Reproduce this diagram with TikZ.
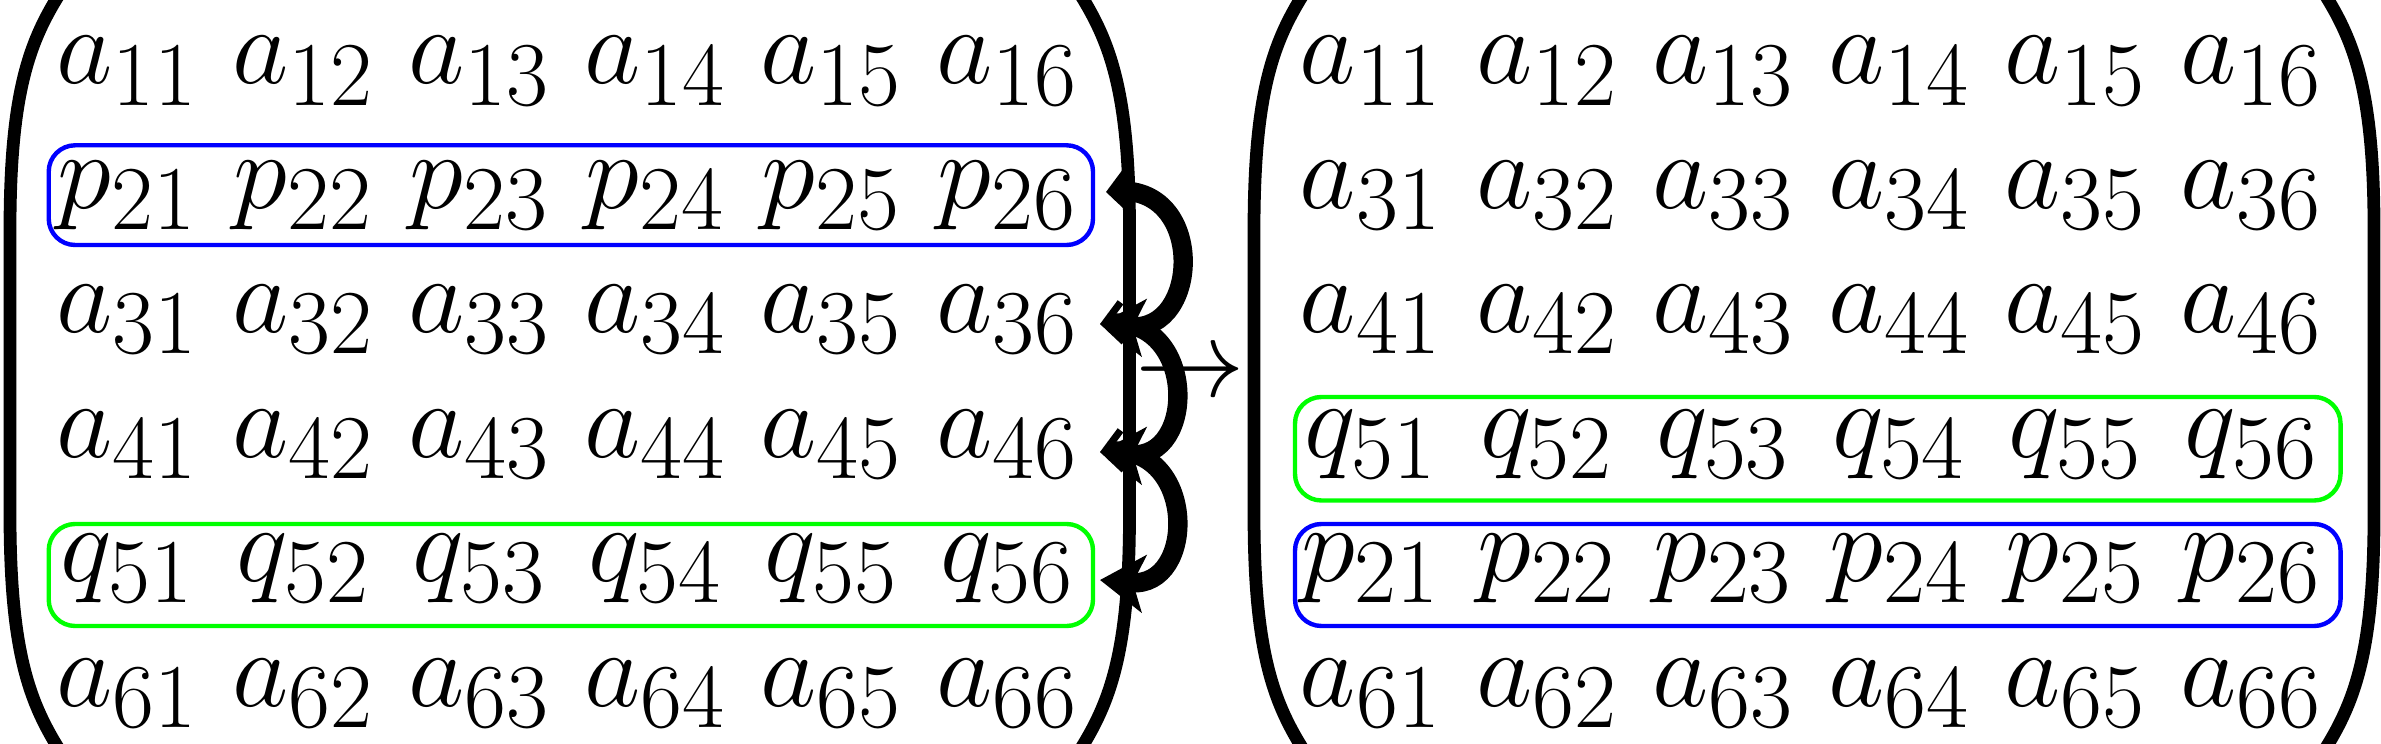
\documentclass[tikz,border=0pt]{standalone}
\usetikzlibrary{arrows.meta}
\begin{document}
\begin{tikzpicture}[x=0.22727pt,y=-0.22727pt,
  entry/.style={anchor=base,inner sep=0pt,font=\Huge},
  paren/.style={line width=2.9pt},
  rowbox/.style={line width=1pt,rounded corners=6pt},
  swaparrow/.style={{Straight Barb[length=4pt,width=9pt,line width=1.6pt]}-{Stealth[length=10pt,width=13pt,inset=2.5pt]},line width=4.4pt}]
\useasboundingbox (0,0) rectangle (2381,744);
% left matrix
\foreach \r/\l [count=\i] in {1/a,2/p,3/a,4/a,5/q,6/a} {
  \foreach \c in {1,...,6} {
    \node[entry] (L\i\c) at ({127.5+176*(\c-1)},{84+124.4*(\i-1)}) {$\l_{\r\c}$};
  }
}
% right matrix
\foreach \r/\l [count=\i] in {1/a,3/a,4/a,5/q,2/p,6/a} {
  \foreach \c in {1,...,6} {
    \node[entry] (R\i\c) at ({1371+176.1*(\c-1)},{84+124.4*(\i-1)}) {$\l_{\r\c}$};
  }
}
% row boxes
\draw[rowbox,blue]  (48.7,145.3) rectangle (1093,245);
\draw[rowbox,green] (48.7,524) rectangle (1093,626);
\draw[rowbox,green] (1295,397) rectangle (2340.5,500.5);
\draw[rowbox,blue]  (1295,524) rectangle (2340.5,626);
% parentheses
\draw[paren] (62,-10) .. controls (30,40) and (10,90) .. (10,230) -- (10,514) .. controls (10,654) and (30,704) .. (62,754);
\draw[paren] (1077.5,-10) .. controls (1109.5,40) and (1129.5,90) .. (1129.5,230) -- (1129.5,514) .. controls (1129.5,654) and (1109.5,704) .. (1077.5,754);
\draw[paren] (1306,-10) .. controls (1274,40) and (1254,90) .. (1254,230) -- (1254,514) .. controls (1254,654) and (1274,704) .. (1306,754);
\draw[paren] (2322,-10) .. controls (2354,40) and (2374,90) .. (2374,230) -- (2374,514) .. controls (2374,654) and (2354,704) .. (2322,754);
% arrow between matrices
\node[entry] (arr) at (1190.5,397) {$\to$};
% swap arrows
\coordinate (s2) at (1106,192);
\coordinate (s3) at (1100,324);
\coordinate (s4) at (1100,452);
\coordinate (s5) at (1100,580);
\draw[swaparrow] (s2) to[out=5,in=-5,looseness=1.95] (s3);
\draw[swaparrow] (s3) to[out=5,in=-5,looseness=1.95] (s4);
\draw[swaparrow] (s4) to[out=5,in=-5,looseness=1.95] (s5);
\end{tikzpicture}
\end{document}
